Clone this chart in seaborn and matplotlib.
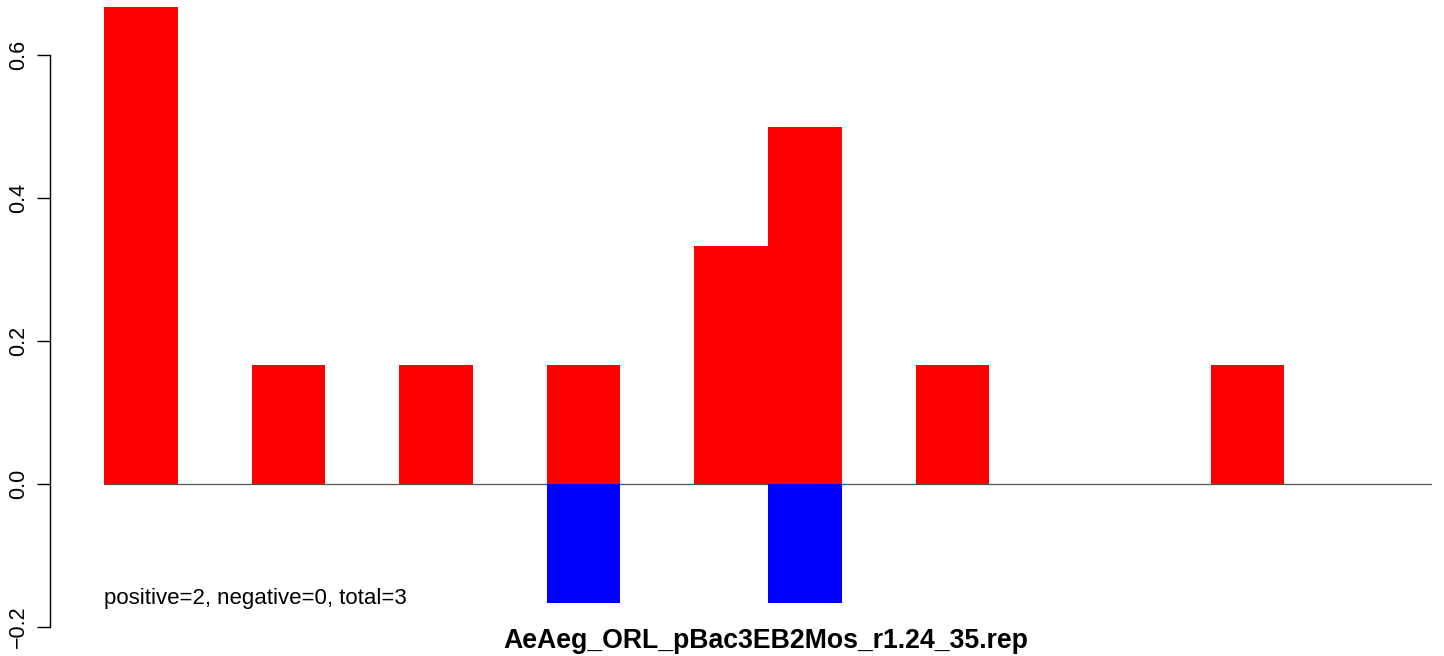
import numpy as np
import pandas as pd
import seaborn as sns
import matplotlib.pyplot as plt

# slot index along the sequence, 18 slots
slots = list(range(18))
pos_vals = [0.667, 0, 0.167, 0, 0.167, 0, 0.167, 0, 0.333, 0.5, 0, 0.167, 0, 0, 0, 0.167, 0, 0]
neg_vals = [0, 0, 0, 0, 0, 0, -0.167, 0, 0, -0.167, 0, 0, 0, 0, 0, 0, 0, 0]
y_ticks = [-0.2, 0.0, 0.2, 0.4, 0.6]
note = "positive=2, negative=0, total=3"
title = "AeAeg_ORL_pBac3EB2Mos_r1.24_35.rep"

df = pd.DataFrame({"slot": slots, "pos": pos_vals, "neg": neg_vals})

sns.set_style("white")
plt.rcParams['font.family'] = ['Liberation Sans', 'DejaVu Sans']
plt.rcParams['text.color'] = 'black'

W, H = 1444, 656
fig = plt.figure(figsize=(W / 100, H / 100), dpi=100)
ax = fig.add_axes([104 / W, (H - 627) / H, (1432 - 104) / W, 627 / H])

sns.barplot(data=df, x="slot", y="pos", color="#ff0000", width=1.0,
            linewidth=0, saturation=1, ax=ax)
sns.barplot(data=df, x="slot", y="neg", color="#0000ff", width=1.0,
            linewidth=0, saturation=1, ax=ax)
ax.axhline(0, color="#555555", lw=0.9, zorder=0.5)

ax.set_xlim(-0.5, 17.5)
ax.set_ylim(-0.2, 484 / 715)
ax.set_xlabel("")
ax.set_ylabel("")
ax.set_xticks([])

for s in ["top", "right", "bottom"]:
    ax.spines[s].set_visible(False)
ax.spines["left"].set_position(("outward", 54 * 0.72))
ax.spines["left"].set_bounds(-0.2, 0.6)
ax.spines["left"].set_color("black")
ax.spines["left"].set_linewidth(1.0)
ax.set_yticks(y_ticks)
ax.set_yticklabels([f"{v:.1f}".replace("-", "\u2212") for v in y_ticks],
                   rotation=90, va="center", fontsize=15.5, color="black")
ax.tick_params(axis="y", left=True, length=13 * 0.72, width=1.0, pad=6, colors="black")

ax.text(-0.5, -0.16, note, fontsize=16, va="center", ha="left", color="black")
fig.text(766 / W, 1 - 648 / H, title, fontsize=19.2, fontweight="bold",
         ha="center", va="baseline", color="black")

fig.savefig("out.png", dpi=100)
